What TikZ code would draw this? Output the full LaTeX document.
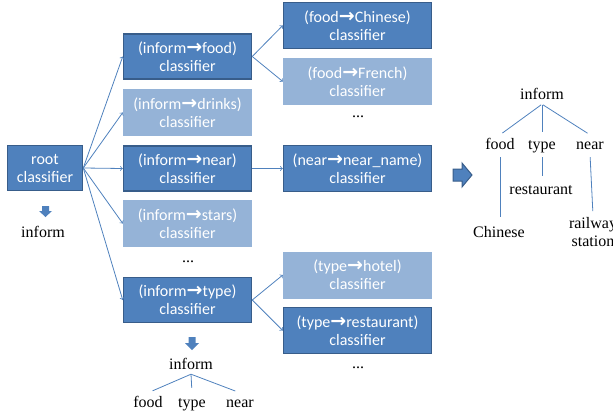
\documentclass[tikz,border=0pt]{standalone}
\usepackage{fontspec}
\setmainfont{Liberation Serif}
\newfontfamily\boxfont{Carlito}
\newfontfamily\arrfont{DejaVu Sans}
\definecolor{boxblue}{HTML}{4F81BD}
\definecolor{boxedge}{HTML}{385D8A}
\definecolor{paleblue}{HTML}{95B3D7}
\newcommand{\rarr}{{\arrfont\bfseries\fontsize{19}{18}\selectfont →}}

\begin{document}
\begin{tikzpicture}[x=1pt,y=-1pt,
    every node/.style={font=\fontsize{16}{18}\selectfont,inner sep=2pt},
    onbox/.style={draw=boxedge,line width=1.5pt,fill=boxblue,text=white,
      font=\boxfont\fontsize{16}{18}\selectfont,align=center,inner sep=0pt},
    offbox/.style={fill=paleblue,text=white,
      font=\boxfont\fontsize{16}{18}\selectfont,align=center,inner sep=0pt},
    word/.style={anchor=base,text height=12pt,text depth=3pt},
    link/.style={boxblue,line width=0.8pt,->},
    branch/.style={boxblue,line width=0.8pt}]
   \clip (0,0) rectangle (613,415);
   % root and first level
   \node[onbox,minimum width=75pt,minimum height=45pt] (root) at (45,168) {root\\classifier};
   \node[onbox,minimum width=128pt,minimum height=45pt] (food) at (187.5,56.5) {(inform\rarr food)\\classifier};
   \node[offbox,minimum width=129pt,minimum height=47pt] (drinks) at (187.5,112.5) {(inform\rarr drinks)\\classifier};
   \node[onbox,minimum width=128pt,minimum height=45pt] (near) at (187.5,168.5) {(inform\rarr near)\\classifier};
   \node[offbox,minimum width=129pt,minimum height=47pt] (stars) at (187.5,223.5) {(inform\rarr stars)\\classifier};
   \node[anchor=base] (dotsa) at (188,262) {...};
   \node[onbox,minimum width=128pt,minimum height=45pt] (type) at (187.5,300) {(inform\rarr type)\\classifier};
   % second level
   \node[onbox,minimum width=148pt,minimum height=46pt] (chinese) at (357.5,25.5) {(food\rarr Chinese)\\classifier};
   \node[offbox,minimum width=149pt,minimum height=47pt] (french) at (357.5,81.5) {(food\rarr French)\\classifier};
   \node[anchor=base] (dotsb) at (358,117) {...};
   \node[onbox,minimum width=148pt,minimum height=46pt] (nearname) at (357.5,168.5) {(near\rarr near\_name)\\classifier};
   \node[offbox,minimum width=149pt,minimum height=47pt] (hotel) at (357.5,275) {(type\rarr hotel)\\classifier};
   \node[onbox,minimum width=148pt,minimum height=46pt] (restaurant) at (357.5,330.5) {(type\rarr restaurant)\\classifier};
   \node[anchor=base] (dotsc) at (358,368) {...};
   % connectors
   \draw[link] (root.east) -- (food.west);
   \draw[link] (root.east) -- (drinks.west);
   \draw[link] (root.east) -- (near.west);
   \draw[link] (root.east) -- (stars.west);
   \draw[link] (root.east) -- (type.west);
   \draw[link] (food.east) -- (chinese.west);
   \draw[link] (food.east) -- (french.west);
   \draw[link] (near.east) -- (nearname.west);
   \draw[link] (type.east) -- (hotel.west);
   \draw[link] (type.east) -- (restaurant.west);
   % small down arrows
   \fill[boxblue] (42,206) -- (49,206) -- (49,211) -- (52,211) -- (45.5,217) -- (39,211) -- (42,211) -- cycle;
   \node[word] (rinform) at (43,237) {inform};
   \fill[boxblue] (188.5,337) -- (195.5,337) -- (195.5,343) -- (199,343) -- (192,350) -- (185,343) -- (188.5,343) -- cycle;
   % tree under type
   \node[word] (binform) at (191,369) {inform};
   \node[word] (bfood) at (148,407) {food};
   \node[word] (btype) at (192,407) {type};
   \node[word] (bnear) at (240,407) {near};
   \draw[branch,shorten >=5pt] (binform.south) -- (bfood.north);
   \draw[branch,shorten >=5pt] (binform.south) -- (btype.north);
   \draw[branch,shorten >=5pt] (binform.south) -- (bnear.north);
   % big arrow
   \filldraw[fill=boxblue,draw=boxedge,line width=1pt] (453,169) -- (462,169) -- (462,163) -- (472,175) -- (462,187) -- (462,181) -- (453,181) -- cycle;
   % final tree
   \node[word] (tinform) at (542,99) {inform};
   \node[word] (tfood) at (500,149) {food};
   \node[word] (ttype) at (542,149) {type};
   \node[word] (tnear) at (590,149) {near};
   \node[word] (tchinese) at (499,237) {Chinese};
   \node[word] (trest) at (541,194) {restaurant};
   \node[align=center] (trail) at (593,232) {railway\\station};
   \draw[branch,shorten <=1pt,shorten >=3pt] (tinform.south) -- (tfood.north);
   \draw[branch,shorten <=1pt,shorten >=3pt] (tinform.south) -- (ttype.north);
   \draw[branch,shorten <=1pt,shorten >=3pt] (tinform.south) -- (tnear.north);
   \draw[branch,shorten <=3pt,shorten >=6pt] (tfood.south) -- (tfood.south |- tchinese.north);
   \draw[branch,shorten <=3pt,shorten >=4pt] (ttype.south) -- (ttype.south |- trest.north);
   \draw[branch,shorten <=3pt,shorten >=4pt] (tnear.south) -- (trail.north);
\end{tikzpicture}
\end{document}
